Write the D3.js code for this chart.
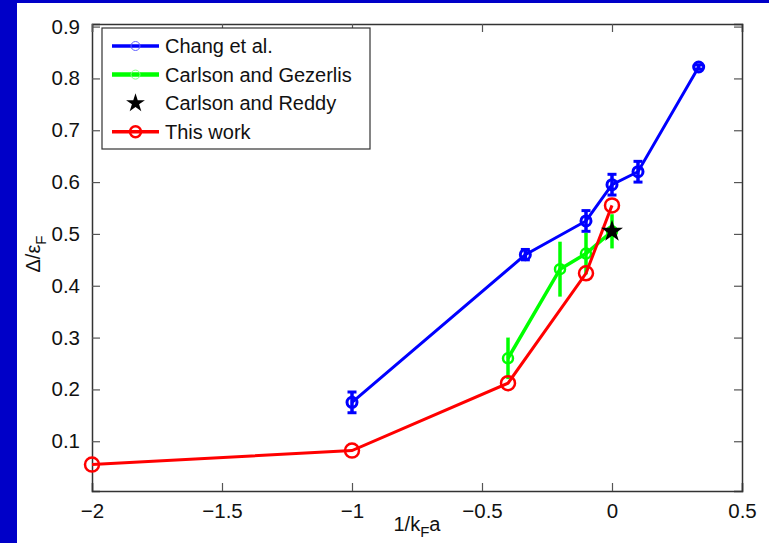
<!DOCTYPE html>
<html>
<head>
<meta charset="utf-8">
<script src="https://cdn.jsdelivr.net/npm/d3@7"></script>
<style>
  body { margin: 0; background: #0000c8; }
  text { font-family: 'Liberation Sans', Arial, sans-serif; }
</style>
</head>
<body>
<div id="graf"></div>
<script>
// datos
changX = [-1, -1/3, -0.1, 0, 0.1, 1/3]
changY = [0.175, 0.46, 0.525, 0.595, 0.62, 0.822]
changErr = [0.02, 0.01, 0.02, 0.02, 0.02, 0.004]

gezX = [-0.4, -0.2, -0.1, 0]
gezY = [0.26, 0.432, 0.462, 0.505]
gezErr = [0.04, 0.053, 0.04, 0.033]

reddyX = [0]
reddyY = [0.505]

workX = [-2, -1, -0.4, -0.1, 0]
workY = [0.055, 0.082, 0.212, 0.424, 0.555]

xTicks = [-2, -1.5, -1, -0.5, 0, 0.5]
xTickLabels = ['\u22122', '\u22121.5', '\u22121', '\u22120.5', '0', '0.5']
yTicks = [0.1, 0.2, 0.3, 0.4, 0.5, 0.6, 0.7, 0.8, 0.9]

ancho_total = 769
alto_total = 543

svg = d3.select('#graf').append('svg')
        .attr('width', ancho_total)
        .attr('height', alto_total)

// fondo azul y hoja blanca
svg.append('rect').attr('x', 0).attr('y', 0).attr('width', ancho_total).attr('height', alto_total).attr('fill', '#0000c8')
svg.append('rect').attr('x', 17).attr('y', 3).attr('width', ancho_total - 17).attr('height', alto_total - 3).attr('fill', 'white')

x = d3.scaleLinear().domain([-2, 0.5]).range([92, 742])
y = d3.scaleLinear().domain([0.004, 0.905]).range([491, 24])

g = svg.append('g')

// ejes (caja estilo matlab, ticks hacia dentro)
ejeX = d3.axisBottom(x).tickValues(xTicks).tickSize(-8).tickPadding(10)
         .tickFormat((d, i) => xTickLabels[i])
ejeY = d3.axisLeft(y).tickValues(yTicks).tickSize(-8).tickPadding(12)
         .tickFormat(d3.format('.1f'))
ejeXT = d3.axisTop(x).tickValues(xTicks).tickSize(-8).tickFormat('')
ejeYR = d3.axisRight(y).tickValues(yTicks).tickSize(-8).tickFormat('')

gx = g.append('g').attr('transform', 'translate(0,491)').call(ejeX)
gy = g.append('g').attr('transform', 'translate(92,0)').call(ejeY)
gxt = g.append('g').attr('transform', 'translate(0,24)').call(ejeXT)
gyr = g.append('g').attr('transform', 'translate(742,0)').call(ejeYR)

;[gx, gy, gxt, gyr].forEach(a => {
    a.select('.domain').attr('stroke', '#333').attr('stroke-width', 1.5)
    a.selectAll('.tick line').attr('stroke', '#555').attr('stroke-width', 1.2)
    a.selectAll('.tick text').attr('font-size', '20.5px').attr('fill', '#111')
        .attr('font-family', "'Liberation Sans', Arial, sans-serif")
})
gx.selectAll('.tick text').attr('dy', '0.85em')

// etiquetas de ejes
xl = svg.append('text').attr('x', 417).attr('y', 531).attr('text-anchor', 'middle')
        .attr('font-size', '20px').attr('fill', '#111')
xl.append('tspan').text('1/k')
xl.append('tspan').attr('font-size', '15px').attr('dy', 6).text('F')
xl.append('tspan').attr('dy', -6).text('a')

yl = svg.append('text').attr('transform', 'translate(40,254) rotate(-90)').attr('text-anchor', 'middle')
        .attr('font-size', '20px').attr('fill', '#111')
yl.append('tspan').text('\u0394/\u03b5')
yl.append('tspan').attr('font-size', '15px').attr('dy', 6).text('F')

linea = (xs, ys) => d3.line().x((d, i) => x(xs[i])).y((d, i) => y(ys[i]))(ys)

// Chang et al.
g.append('path').attr('d', linea(changX, changY)).attr('fill', 'none')
  .attr('stroke', '#0000ff').attr('stroke-width', 3)
changY.forEach((v, i) => {
    cx = x(changX[i])
    g.append('line').attr('x1', cx).attr('x2', cx).attr('y1', y(v - changErr[i])).attr('y2', y(v + changErr[i]))
      .attr('stroke', '#0000ff').attr('stroke-width', 3.5)
    ;[v - changErr[i], v + changErr[i]].forEach(e => {
        g.append('line').attr('x1', cx - 4.5).attr('x2', cx + 4.5).attr('y1', y(e)).attr('y2', y(e))
          .attr('stroke', '#0000ff').attr('stroke-width', 3)
    })
    g.append('circle').attr('cx', cx).attr('cy', y(v)).attr('r', 5)
      .attr('fill', 'none').attr('stroke', '#0000ff').attr('stroke-width', 3)
})

// Carlson and Gezerlis
g.append('path').attr('d', linea(gezX, gezY)).attr('fill', 'none')
  .attr('stroke', '#00ff00').attr('stroke-width', 3.5)
gezY.forEach((v, i) => {
    cx = x(gezX[i])
    g.append('line').attr('x1', cx).attr('x2', cx).attr('y1', y(v - gezErr[i])).attr('y2', y(v + gezErr[i]))
      .attr('stroke', '#00ff00').attr('stroke-width', 3.5)
    g.append('circle').attr('cx', cx).attr('cy', y(v)).attr('r', 5)
      .attr('fill', 'none').attr('stroke', '#00ff00').attr('stroke-width', 2.5)
})

// This work
g.append('path').attr('d', linea(workX, workY)).attr('fill', 'none')
  .attr('stroke', '#ff0000').attr('stroke-width', 3)
workY.forEach((v, i) => {
    g.append('circle').attr('cx', x(workX[i])).attr('cy', y(v)).attr('r', 7)
      .attr('fill', 'none').attr('stroke', '#ff0000').attr('stroke-width', 2.5)
})

// Carlson and Reddy
estrella = d3.symbol().type(d3.symbolStar).size(150)
reddyY.forEach((v, i) => {
    g.append('path').attr('d', estrella()).attr('transform', `translate(${x(reddyX[i])},${y(v)})`)
      .attr('fill', 'black')
})

// leyenda
ley = svg.append('g')
ley.append('rect').attr('x', 102).attr('y', 28).attr('width', 268).attr('height', 121)
   .attr('fill', 'white').attr('stroke', '#333').attr('stroke-width', 1.2)

series = ['Chang et al.', 'Carlson and Gezerlis', 'Carlson and Reddy', 'This work']
colores = ['#0000ff', '#00ff00', 'black', '#ff0000']
series.forEach((s, i) => {
    ly = 46 + i * 28.6
    if (i != 2) {
        ley.append('line').attr('x1', 112).attr('x2', 159).attr('y1', ly).attr('y2', ly)
           .attr('stroke', colores[i]).attr('stroke-width', i == 1 ? 4.5 : 3.5)
        ley.append('circle').attr('cx', 135.5).attr('cy', ly).attr('r', i == 3 ? 5.5 : 4.5)
           .attr('fill', 'none').attr('stroke', i == 1 ? '#80ff80' : (i == 0 ? '#6060ff' : colores[i]))
           .attr('stroke-width', i == 3 ? 2.5 : 1)
    } else {
        ley.append('path').attr('d', d3.symbol().type(d3.symbolStar).size(110)())
           .attr('transform', `translate(135.5,${ly})`).attr('fill', 'black')
    }
    ley.append('text').attr('x', 165).attr('y', ly).attr('dy', '0.36em')
       .attr('font-size', '20px').attr('fill', '#111').text(s)
})
</script>
</body>
</html>
